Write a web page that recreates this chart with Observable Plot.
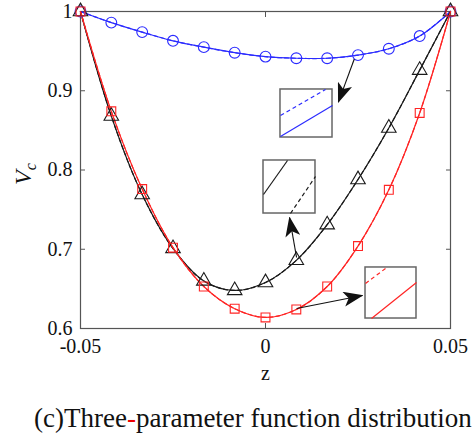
<!DOCTYPE html>
<html><head><meta charset="utf-8">
<script src="https://cdn.jsdelivr.net/npm/d3@7"></script>
<script src="https://cdn.jsdelivr.net/npm/@observablehq/plot@0.6"></script>
<style>
body{margin:0;background:#fff;font-family:"Liberation Serif",serif;}
#cap{width:474px;white-space:nowrap;padding-left:34px;box-sizing:border-box;font-size:27px;line-height:32px;margin-top:10px;color:#111;}
</style></head><body>
<div id="chart"></div>
<div id="cap">(c)Three<span style="color:#e00">-</span>parameter function distribution</div>
<script>
const z = [-0.05, -0.04167, -0.03333, -0.025, -0.01667, -0.00833, 0, 0.00833, 0.01667, 0.025, 0.03333, 0.04167, 0.05];
const blueVc  = [1.0, 0.986, 0.974, 0.963, 0.955, 0.948, 0.943, 0.941, 0.941, 0.945, 0.953, 0.969, 1.0];
const blackVc = [1.0, 0.868, 0.769, 0.701, 0.660, 0.648, 0.658, 0.686, 0.731, 0.788, 0.853, 0.926, 1.0];
const redVc   = [1.0, 0.874, 0.776, 0.702, 0.653, 0.625, 0.614, 0.624, 0.653, 0.704, 0.775, 0.872, 1.0];
const xTicks = [-0.05, 0, 0.05];
const yTicks = [0.6, 0.7, 0.8, 0.9, 1.0];

// inset boxes (data units)
const insetBoxes = [
  {x1: 0.00405, x2: 0.01811, y1: 0.8410, y2: 0.9016},
  {x1: -0.00054, x2: 0.01351, y1: 0.7451, y2: 0.8120},
  {x1: 0.02703, x2: 0.04081, y1: 0.6126, y2: 0.6770}
];
const insetLines = [
  {x1: 0.00405, y1: 0.8688, x2: 0.01622, y2: 0.9016, color: "blue", dash: true},
  {x1: 0.00405, y1: 0.8423, x2: 0.01811, y2: 0.8814, color: "blue", dash: false},
  {x1: -0.00054, y1: 0.7691, x2: 0.00595, y2: 0.8120, color: "black", dash: false},
  {x1: 0.00676, y1: 0.7451, x2: 0.01351, y2: 0.7918, color: "black", dash: true},
  {x1: 0.02703, y1: 0.6568, x2: 0.03243, y2: 0.6757, color: "red", dash: true},
  {x1: 0.02865, y1: 0.6126, x2: 0.04081, y2: 0.6580, color: "red", dash: false}
];
const arrows = [
  {x1: 0.0240, y1: 0.940, x2: 0.0197, y2: 0.8856},
  {x1: 0.0084, y1: 0.6896, x2: 0.0065, y2: 0.740},
  {x1: 0.0084, y1: 0.6252, x2: 0.0262, y2: 0.6416}
];

const colors = {blue: "#2b2bff", black: "#1a1a1a", red: "#ff2424"};
const series = [
  {name: "blue", vals: blueVc, symbol: "circle", r: 5.4},
  {name: "black", vals: blackVc, symbol: "triangle", r: 5.4},
  {name: "red", vals: redVc, symbol: "square", r: 5.0}
];
const rows = series.flatMap(s => z.map((zz, i) => ({z: zz, v: s.vals[i], s: s.name})));

const marks = [];
for (const s of series) {
  const d = rows.filter(r => r.s === s.name);
  marks.push(Plot.line(d, {x: "z", y: "v", stroke: colors[s.name], strokeWidth: 1.2, strokeDasharray: "4,3", curve: "catmull-rom"}));
  marks.push(Plot.line(d, {x: "z", y: "v", stroke: colors[s.name], strokeWidth: 1.2, curve: "catmull-rom"}));
}
for (const s of series) {
  const d = rows.filter(r => r.s === s.name);
  marks.push(Plot.dot(d, {x: "z", y: "v", symbol: () => s.symbol, r: s.r, stroke: colors[s.name], strokeWidth: 1.1, fill: "none"}));
}
marks.push(Plot.rect(insetBoxes, {x1: "x1", x2: "x2", y1: "y1", y2: "y2", fill: "white", stroke: "#666", strokeWidth: 1.5}));
marks.push(Plot.link(insetLines.filter(d => !d.dash), {x1: "x1", y1: "y1", x2: "x2", y2: "y2", stroke: d => colors[d.color], strokeWidth: 1.2}));
marks.push(Plot.link(insetLines.filter(d => d.dash), {x1: "x1", y1: "y1", x2: "x2", y2: "y2", stroke: d => colors[d.color], strokeWidth: 1.2, strokeDasharray: "4,3"}));
marks.push(Plot.link(arrows, {x1: "x1", y1: "y1", x2: "x2", y2: "y2", stroke: "#101010", strokeWidth: 1.1}));

const plot = Plot.plot({
  width: 474, height: 392,
  marginLeft: 80, marginRight: 24, marginTop: 11, marginBottom: 64,
  x: {domain: [-0.05, 0.05]},
  y: {domain: [0.6, 1.0]},
  style: {fontFamily: "Liberation Serif, serif", fontSize: "20px", color: "#111", background: "white", overflow: "visible"},
  marks: [
    Plot.frame({stroke: "#555", strokeWidth: 1.2}),
    Plot.axisX({ticks: xTicks, tickSize: 0, tickPadding: 10, tickFormat: d => String(d), label: null, fontSize: 20}),
    Plot.axisX({ticks: xTicks, tickSize: -5, tickFormat: () => "", label: null, stroke: "#555"}),
    Plot.axisX({anchor: "top", ticks: xTicks, tickSize: -5, tickFormat: () => "", label: null, stroke: "#555"}),
    Plot.axisY({ticks: yTicks, tickSize: 0, tickPadding: 8, tickFormat: d => String(+d.toFixed(1)), label: null, fontSize: 20}),
    Plot.axisY({ticks: yTicks, tickSize: -5, tickFormat: () => "", label: null, stroke: "#555"}),
    Plot.axisY({anchor: "right", ticks: yTicks, tickSize: -5, tickFormat: () => "", label: null, stroke: "#555"}),
    Plot.text(["z"], {frameAnchor: "bottom", dy: 51, fontSize: 20, fill: "#111"}),
    ...marks
  ]
});
document.getElementById("chart").appendChild(plot);

const svg = d3.select(plot);
const defs = svg.insert("defs", ":first-child");
defs.append("marker").attr("id", "ah").attr("viewBox", "0 0 20 15")
  .attr("refX", 19).attr("refY", 7.5).attr("markerWidth", 20).attr("markerHeight", 15)
  .attr("markerUnits", "userSpaceOnUse").attr("orient", "auto")
  .append("path").attr("d", "M0,0 L20,7.5 L0,15 L5,7.5 Z").attr("fill", "#111");
svg.selectAll('[stroke="#101010"] path, [stroke="#101010"] line, path[stroke="#101010"], line[stroke="#101010"]').attr("marker-end", "url(#ah)");

// y-axis label V_c
const yl = svg.append("text").attr("transform", "translate(31,174) rotate(-90)")
  .attr("text-anchor", "middle").attr("font-family", "Liberation Serif, serif").attr("font-size", 24).attr("fill", "#111");
yl.append("tspan").attr("font-style", "italic").text("V");
yl.append("tspan").attr("font-style", "italic").attr("font-size", 16).attr("dy", 5).text("c");
</script>
</body></html>
